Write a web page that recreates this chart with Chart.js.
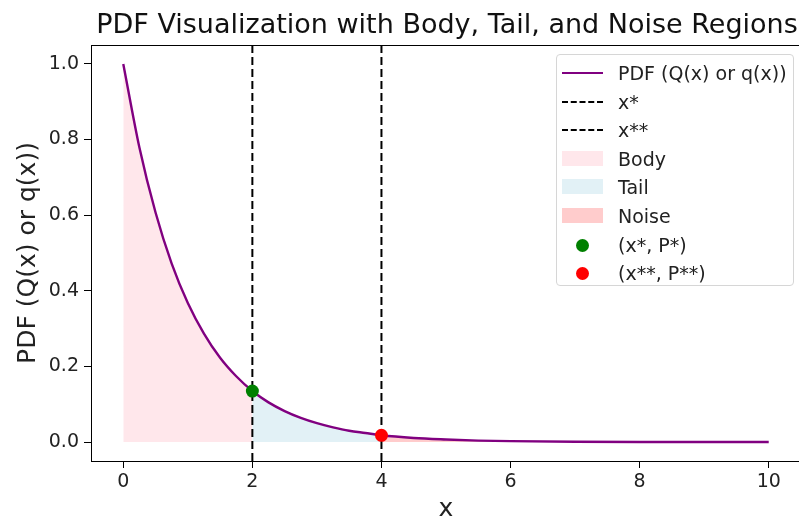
<!DOCTYPE html>
<html>
<head>
<meta charset="utf-8">
<script src="https://cdn.jsdelivr.net/npm/chart.js@4.4.0/dist/chart.umd.min.js"></script>
<style>
  body { margin: 0; overflow: hidden; background: #fff; font-family: "DejaVu Sans", sans-serif; }
  .wrap { position: relative; width: 801px; height: 522px; }
  .legendBox { position: absolute; left: 556px; top: 54px; width: 236px; height: 230px;
    border: 1px solid #d6d6d6; border-radius: 4px; background: rgba(255,255,255,0.8); }
  .legendRow { position: absolute; left: 0; height: 22px; width: 100%; }
  .legendRow span.txt { position: absolute; left: 61px; top: 0; font-size: 19px; line-height: 22px; color: #222; white-space: nowrap; }
  .sw { position: absolute; left: 5px; }
</style>
</head>
<body>
<div class="wrap">
  <canvas id="myChart" width="801" height="522"></canvas>
  <div class="legendBox" id="legendBox"></div>
</div>
<script>
// curve samples
var xValues = [0, 0.25, 0.5, 0.75, 1, 1.25, 1.5, 1.75, 2, 2.25, 2.5, 2.75, 3, 3.25, 3.5, 3.75, 4, 4.5, 5, 5.5, 6, 7, 8, 9, 10];
var pdfValues = [1.0, 0.779, 0.607, 0.472, 0.368, 0.287, 0.223, 0.174, 0.135, 0.105, 0.082, 0.064, 0.050, 0.039, 0.030, 0.024, 0.018, 0.011, 0.007, 0.004, 0.0025, 0.001, 0.0003, 0.0001, 0.00005];

var xStar = 2;
var xStarStar = 4;
var pStar = 0.135;
var pStarStar = 0.018;

var xTicks = [0, 2, 4, 6, 8, 10];
var yTicks = [0, 0.2, 0.4, 0.6, 0.8, 1.0];
var xLimits = [-0.5, 10.5];
var yLimits = [-0.05, 1.05];

var curve = xValues.map((x, i) => ({ x: x, y: pdfValues[i] }));
var bodyPts = curve.filter(p => p.x <= xStar);
var tailPts = curve.filter(p => p.x >= xStar && p.x <= xStarStar);
var noisePts = curve.filter(p => p.x >= xStarStar);

var frame = {
  id: 'frame',
  afterDraw(chart) {
    const a = chart.chartArea, ctx = chart.ctx;
    ctx.save();
    ctx.strokeStyle = '#000';
    ctx.lineWidth = 1;
    ctx.strokeRect(a.left + 0.5, a.top + 0.5, a.right - a.left, a.bottom - a.top);
    ctx.fillStyle = '#111';
    ctx.font = '27px "DejaVu Sans"';
    ctx.textAlign = 'center';
    ctx.textBaseline = 'alphabetic';
    ctx.fillText('PDF Visualization with Body, Tail, and Noise Regions', 447, 33);
    ctx.restore();
  }
};

Chart.defaults.font.family = '"DejaVu Sans", sans-serif';
Chart.defaults.color = '#222';

new Chart(document.getElementById('myChart'), {
  type: 'line',
  data: {
    datasets: [
      { label: '(x*, P*)', data: [{ x: xStar, y: pStar }], showLine: false, pointRadius: 6.5, pointBackgroundColor: '#008000', pointBorderWidth: 0 },
      { label: '(x**, P**)', data: [{ x: xStarStar, y: pStarStar }], showLine: false, pointRadius: 6.5, pointBackgroundColor: '#ff0000', pointBorderWidth: 0 },
      { label: 'PDF (Q(x) or q(x))', data: curve, borderColor: '#800080', borderWidth: 2.4, pointRadius: 0, cubicInterpolationMode: 'monotone', fill: false },
      { label: 'x*', data: [{ x: xStar, y: yLimits[0] }, { x: xStar, y: yLimits[1] }], borderColor: '#000', borderWidth: 2, borderDash: [8, 4], pointRadius: 0 },
      { label: 'x**', data: [{ x: xStarStar, y: yLimits[0] }, { x: xStarStar, y: yLimits[1] }], borderColor: '#000', borderWidth: 2, borderDash: [8, 4], pointRadius: 0 },
      { label: 'Noise', data: noisePts, borderWidth: 0, pointRadius: 0, cubicInterpolationMode: 'monotone', fill: 'origin', backgroundColor: 'rgba(255,0,0,0.2)' },
      { label: 'Tail', data: tailPts, borderWidth: 0, pointRadius: 0, cubicInterpolationMode: 'monotone', fill: 'origin', backgroundColor: 'rgba(173,216,230,0.35)' },
      { label: 'Body', data: bodyPts, borderWidth: 0, pointRadius: 0, cubicInterpolationMode: 'monotone', fill: 'origin', backgroundColor: 'rgba(255,192,203,0.38)' }
    ]
  },
  options: {
    responsive: false,
    animation: false,
    layout: { autoPadding: false, padding: { top: 45, left: 0, right: 0, bottom: 0 } },
    plugins: { legend: { display: false }, tooltip: { enabled: false } },
    scales: {
      x: {
        type: 'linear', min: xLimits[0], max: xLimits[1],
        afterBuildTicks: s => { s.ticks = xTicks.map(v => ({ value: v })); },
        afterFit: s => { s.height = 61; s.paddingLeft = 0; s.paddingRight = 0; },
        grid: { drawOnChartArea: false, drawTicks: true, tickLength: 7, tickColor: '#000' },
        border: { display: true, color: '#000' },
        ticks: { font: { size: 19 }, padding: 3, color: '#222' },
        title: { display: true, text: 'x', font: { size: 25, lineHeight: 1 }, color: '#222', padding: { top: 0, bottom: 0 } }
      },
      y: {
        min: yLimits[0], max: yLimits[1],
        afterBuildTicks: s => { s.ticks = yTicks.map(v => ({ value: v })); },
        afterFit: s => { s.width = 91; s.paddingTop = 0; s.paddingBottom = 0; },
        grid: { drawOnChartArea: false, drawTicks: true, tickLength: 7, tickColor: '#000' },
        border: { display: true, color: '#000' },
        ticks: { font: { size: 19 }, padding: 5, color: '#222', callback: v => v.toFixed(1) },
        title: { display: true, text: 'PDF (Q(x) or q(x))', font: { size: 25 }, color: '#222', padding: { top: 13, bottom: 0 } }
      }
    }
  },
  plugins: [frame]
});

// legend, same order as the original
var legendItems = [
  { text: 'PDF (Q(x) or q(x))', kind: 'line', color: '#800080' },
  { text: 'x*', kind: 'dash', color: '#000' },
  { text: 'x**', kind: 'dash', color: '#000' },
  { text: 'Body', kind: 'box', color: 'rgba(255,192,203,0.38)' },
  { text: 'Tail', kind: 'box', color: 'rgba(173,216,230,0.35)' },
  { text: 'Noise', kind: 'box', color: 'rgba(255,0,0,0.2)' },
  { text: '(x*, P*)', kind: 'dot', color: '#008000' },
  { text: '(x**, P**)', kind: 'dot', color: '#ff0000' }
];
var legendBox = document.getElementById('legendBox');
legendItems.forEach((item, i) => {
  var top = 7 + i * 28.6;
  var sw = '';
  if (item.kind == 'line') sw = `<div class="sw" style="top:10px;width:41px;border-top:2px solid ${item.color}"></div>`;
  if (item.kind == 'dash') sw = `<div class="sw" style="top:10px;width:41px;border-top:2px dashed ${item.color}"></div>`;
  if (item.kind == 'box') sw = `<div class="sw" style="top:3px;width:41px;height:15px;background:${item.color}"></div>`;
  if (item.kind == 'dot') sw = `<div class="sw" style="top:5px;left:19px;width:13px;height:13px;border-radius:7px;background:${item.color}"></div>`;
  legendBox.innerHTML += `<div class="legendRow" style="top:${top}px">${sw}<span class="txt">${item.text}</span></div>`;
});
</script>
</body>
</html>
